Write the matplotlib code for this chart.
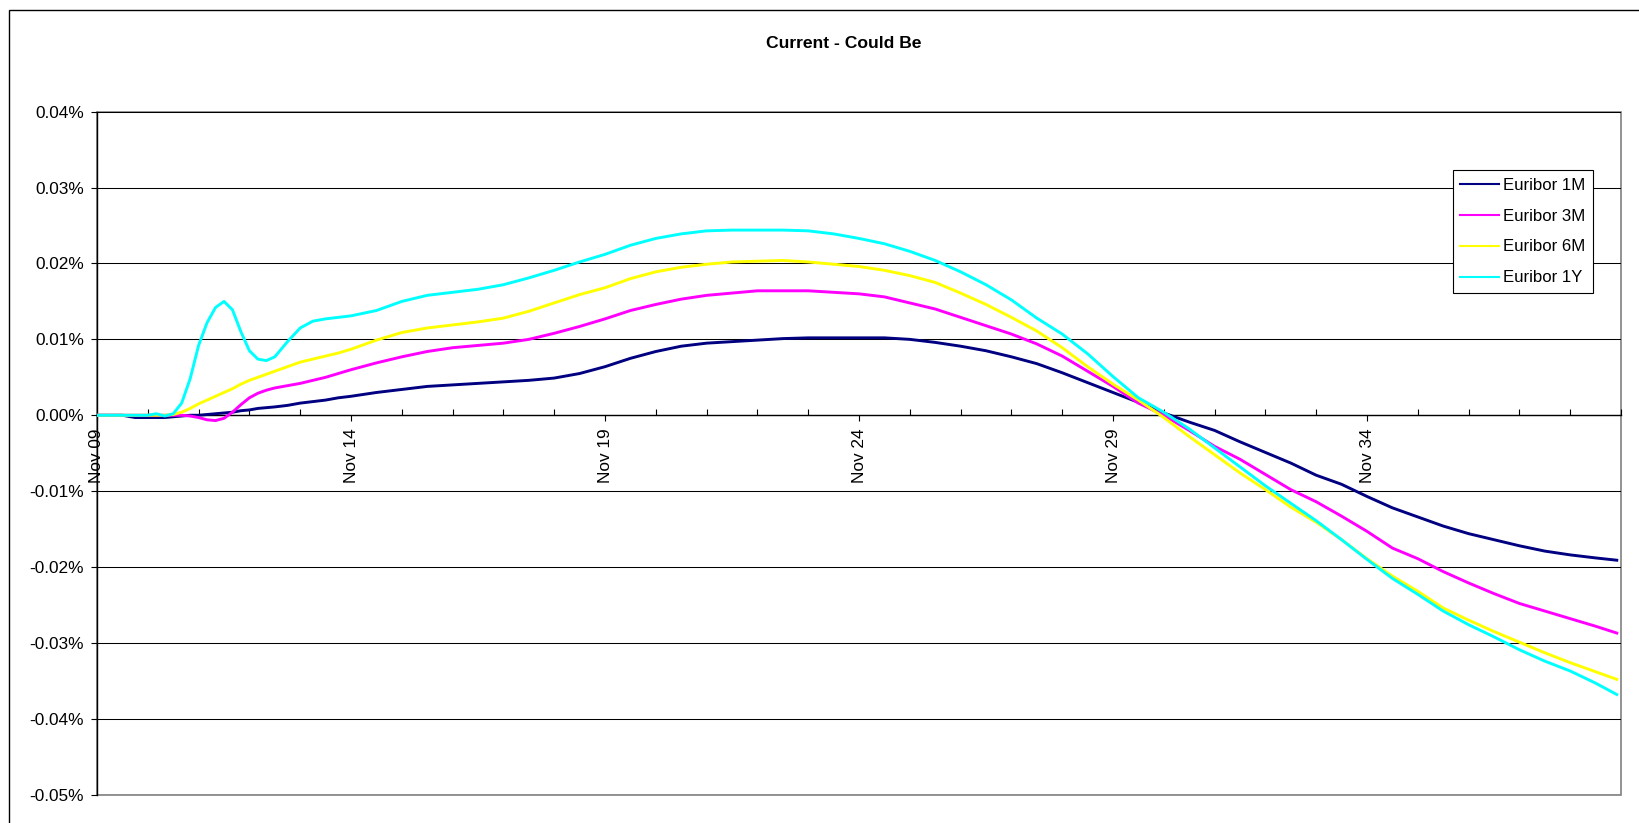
import matplotlib
matplotlib.use('Agg')
from matplotlib import pyplot as plt
from matplotlib.patches import Rectangle
from matplotlib.ticker import MultipleLocator, FuncFormatter

# months since Nov 2009
months = [0, 6, 9, 12, 14, 16, 18, 20, 22, 24, 26, 28, 30, 32, 34, 36, 38, 40, 42, 45,
          48, 51, 54, 57, 60, 66, 72, 78, 84, 90, 96, 102, 108, 114, 120, 126, 132, 138,
          144, 150, 156, 162, 168, 174, 180, 186, 192, 198, 204, 210, 216, 222, 228, 234,
          240, 246, 252, 258, 264, 270, 276, 282, 288, 294, 300, 306, 312, 318, 324, 330,
          336, 342, 348, 354, 359]

# differences in percent
euribor_1m = [0, 0, -0.0003, -0.0003, -0.0003, -0.0003, -0.0002, -0.0001, 0, 0.0000, 0.0001,
              0.0002, 0.0003, 0.0004, 0.0006, 0.0007, 0.0009, 0.0010, 0.0011, 0.0013,
              0.0016, 0.0018, 0.0020, 0.0023, 0.0025, 0.0030, 0.0034, 0.0038, 0.0040, 0.0042,
              0.0044, 0.0046, 0.0049, 0.0055, 0.0064, 0.0075, 0.0084, 0.0091, 0.0095, 0.0097,
              0.0099, 0.0101, 0.0102, 0.0102, 0.0102, 0.0102, 0.0100, 0.0096, 0.0091, 0.0085,
              0.0077, 0.0068, 0.0056, 0.0043, 0.0030, 0.0017, 0.0003, -0.0009, -0.0020, -0.0035,
              -0.0049, -0.0063, -0.0079, -0.0091, -0.0107, -0.0122, -0.0134, -0.0146, -0.0156,
              -0.0164, -0.0172, -0.0179, -0.0184, -0.0188, -0.0191]

euribor_3m = [0, 0, 0, 0, 0, 0, 0, 0, -0.0001, -0.0003, -0.0006, -0.0007, -0.0004, 0.0004,
              0.0014, 0.0023, 0.0029, 0.0033, 0.0036, 0.0039, 0.0042, 0.0046, 0.0050, 0.0055,
              0.0060, 0.0069, 0.0077, 0.0084, 0.0089, 0.0092, 0.0095, 0.0100, 0.0108, 0.0117,
              0.0127, 0.0138, 0.0146, 0.0153, 0.0158, 0.0161, 0.0164, 0.0164, 0.0164, 0.0162,
              0.0160, 0.0156, 0.0148, 0.0140, 0.0129, 0.0118, 0.0107, 0.0094, 0.0078, 0.0058,
              0.0038, 0.0016, 0.0000, -0.0020, -0.0041, -0.0058, -0.0078, -0.0098, -0.0114,
              -0.0133, -0.0153, -0.0175, -0.0189, -0.0206, -0.0221, -0.0235, -0.0248, -0.0258,
              -0.0268, -0.0278, -0.0287]

euribor_6m = [0, 0, 0, 0, 0, 0, 0.0001, 0.0004, 0.0009, 0.0015, 0.0020, 0.0025, 0.0030,
              0.0035, 0.0041, 0.0046, 0.0050, 0.0054, 0.0058, 0.0064, 0.0070, 0.0074, 0.0078,
              0.0082, 0.0087, 0.0099, 0.0109, 0.0115, 0.0119, 0.0123, 0.0128, 0.0137, 0.0148,
              0.0159, 0.0168, 0.0180, 0.0189, 0.0195, 0.0199, 0.0202, 0.0203, 0.0204, 0.0202,
              0.0199, 0.0196, 0.0191, 0.0184, 0.0175, 0.0161, 0.0146, 0.0129, 0.0111, 0.0089,
              0.0064, 0.0041, 0.0020, -0.0003, -0.0028, -0.0052, -0.0076, -0.0098, -0.0121,
              -0.0141, -0.0164, -0.0189, -0.0212, -0.0232, -0.0254, -0.0270, -0.0285, -0.0299,
              -0.0313, -0.0326, -0.0338, -0.0348]

euribor_1y = [0, 0, 0, 0, 0.0002, -0.0001, 0.0002, 0.0016, 0.0048, 0.0092, 0.0122, 0.0142,
              0.0150, 0.0139, 0.0110, 0.0085, 0.0074, 0.0072, 0.0077, 0.0097, 0.0115, 0.0124,
              0.0127, 0.0129, 0.0131, 0.0138, 0.0150, 0.0158, 0.0162, 0.0166, 0.0172, 0.0181,
              0.0191, 0.0202, 0.0212, 0.0224, 0.0233, 0.0239, 0.0243, 0.0244, 0.0244, 0.0244,
              0.0243, 0.0239, 0.0233, 0.0226, 0.0216, 0.0204, 0.0189, 0.0172, 0.0152, 0.0128,
              0.0107, 0.0081, 0.0051, 0.0023, 0.0004, -0.0018, -0.0043, -0.0068, -0.0093,
              -0.0116, -0.0139, -0.0164, -0.0190, -0.0215, -0.0236, -0.0258, -0.0276, -0.0292,
              -0.0309, -0.0324, -0.0337, -0.0353, -0.0368]

series_names = ['Euribor 1M', 'Euribor 3M', 'Euribor 6M', 'Euribor 1Y']
series_colors = ['#000080', '#FF00FF', '#FFFF00', '#00FFFF']
tick_labels = ['Nov 09', 'Nov 14', 'Nov 19', 'Nov 24', 'Nov 29', 'Nov 34']

W, H = 1640, 823


def pct(v, pos):
    v = round(v, 4)
    if v == 0:
        v = 0.0
    return "{:.2f}%".format(v)


def main():
    plt.rcParams['font.family'] = ['Liberation Sans', 'DejaVu Sans']
    fig = plt.figure(figsize=(W/100, H/100), dpi=100)
    fig.patch.set_facecolor('white')

    # chart area border (runs off the right and bottom edge)
    fig.patches.append(Rectangle((9.5/W, -0.5), 2, 1.5 - 10/H, transform=fig.transFigure,
                                 fill=False, edgecolor='black', lw=1.0))
    fig.text(844/W, 1 - 44/H, 'Current - Could Be', ha='center', va='center',
             fontsize=12.6, fontweight='bold')

    ax = fig.add_axes([97/W, 1 - 794.7/H, (1621 - 97)/W, (794.7 - 111.7)/H])

    # category axis crosses at zero (set before tick styling, it resets the ticks)
    ax.spines['bottom'].set_position(('data', 0))
    ax.spines['bottom'].set_linewidth(1.0)
    ax.spines['left'].set_linewidth(1.0)
    ax.spines['top'].set_visible(False)
    ax.spines['right'].set_visible(False)
    ax.add_patch(Rectangle((0, 0), 1, 1, transform=ax.transAxes, fill=False,
                           edgecolor='#808080', lw=1.2, clip_on=False, zorder=0.5))

    ax.set_xlim(0, 360)
    ax.set_ylim(-0.05, 0.04)

    for data, name, col in zip([euribor_1m, euribor_3m, euribor_6m, euribor_1y],
                               series_names, series_colors):
        ax.plot(months, data, color=col, lw=2.1, label=name, zorder=3)

    ax.yaxis.set_major_locator(MultipleLocator(0.01))
    ax.yaxis.set_major_formatter(FuncFormatter(pct))
    ax.grid(axis='y', color='black', lw=0.75, zorder=1)
    ax.set_axisbelow(True)

    ax.set_xticks(range(0, 301, 60))
    ax.set_xticklabels(tick_labels)
    ax.xaxis.set_minor_locator(MultipleLocator(12))
    ax.tick_params(axis='x', which='major', direction='out', length=4, width=0.8,
                   pad=5.5, labelsize=12.4, labelrotation=90)
    ax.tick_params(axis='x', which='minor', direction='in', length=4, width=0.8)
    ax.tick_params(axis='y', direction='out', length=4, width=0.8, pad=5.5, labelsize=12.4)

    leg = ax.legend(loc='upper left', bbox_to_anchor=(1452.7/W, 1 - 170/H),
                    bbox_transform=fig.transFigure, borderaxespad=0, fontsize=12.1,
                    fancybox=False, framealpha=1, edgecolor='black', handlelength=2.3,
                    handletextpad=0.24, borderpad=0.45, labelspacing=0.95)
    leg.get_frame().set_linewidth(0.8)
    for line in leg.get_lines():
        line.set_linewidth(1.5)

    fig.savefig('out.png', dpi=100)


if __name__ == "__main__":
    main()
